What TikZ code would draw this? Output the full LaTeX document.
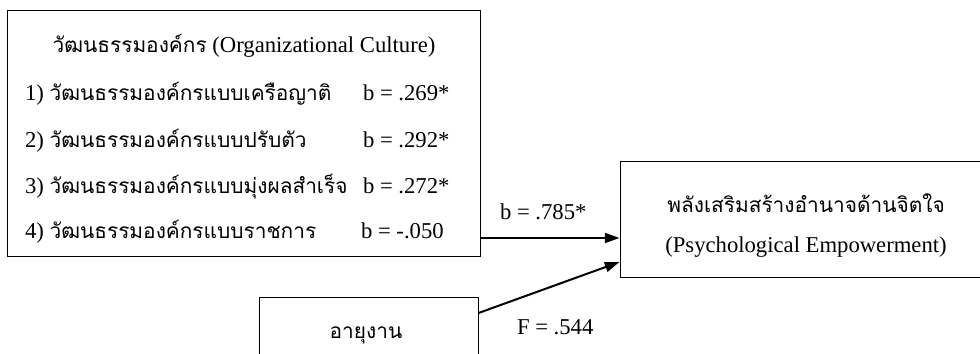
\documentclass[tikz,border=0pt]{standalone}
\usepackage{fontspec}
\setmainfont{Liberation Serif}
\newfontfamily\thaifont[Script=Thai,Scale=0.92]{Loma}
\usetikzlibrary{arrows.meta}
\newcommand{\thtext}[1]{{\thaifont #1}}
\tikzset{
  box/.style={draw=black,line width=0.75pt,fill=white,inner sep=0pt},
  txt/.style={inner sep=0pt,outer sep=0pt,anchor=base west,font=\fontsize{17}{20}\selectfont},
  link/.style={draw=black,line width=1.5pt,-{Triangle[length=11pt,width=7.5pt]}}
}
\begin{document}
\begin{tikzpicture}[x=.75pt,y=-.75pt]
\path[use as bounding box] (0,0) rectangle (980,353);
\clip (0,0) rectangle (980,353);
% boxes
\node[box,minimum width=354.75pt,minimum height=183.75pt] (culture) at (243.5,133.5) {};
\node[box,minimum width=285pt,minimum height=87pt] (empower) at (810,219) {};
\node[box,minimum width=164.25pt,minimum height=60pt] (tenure) at (368.5,337) {};
% culture box text
\node[txt,anchor=base] (ctitle) at (244,53) {\thtext{วัฒนธรรมองค์กร} (Organizational Culture)};
\node[txt] (c1) at (25,100) {1) \thtext{วัฒนธรรมองค์กรแบบเครือญาติ}};
\node[txt] (b1) at (363,100) {b = .269*};
\node[txt] (c2) at (25,147) {2) \thtext{วัฒนธรรมองค์กรแบบปรับตัว}};
\node[txt] (b2) at (363,147) {b = .292*};
\node[txt] (c3) at (25,193) {3) \thtext{วัฒนธรรมองค์กรแบบมุ่งผลสำเร็จ}};
\node[txt] (b3) at (363,193) {b = .272*};
\node[txt] (c4) at (25,238) {4) \thtext{วัฒนธรรมองค์กรแบบราชการ}};
\node[txt] (b4) at (361,238) {b = -.050};
% outcome box text
\node[txt,anchor=base] (etitle) at (806,212) {\thtext{พลังเสริมสร้างอำนาจด้านจิตใจ}};
\node[txt,anchor=base] (esub) at (806,252) {(Psychological Empowerment)};
% tenure box text
\node[txt,anchor=base] (ttitle) at (366,338) {\thtext{อายุงาน}};
% paths
\draw[link] (culture.east |- 0,238) -- (empower.west |- 0,238);
\draw[link] (tenure.east |- 0,313) -- (empower.west |- 0,262);
\node[txt] (bpath) at (500,219) {b = .785*};
\node[txt] (fpath) at (517,334) {F = .544};
\end{tikzpicture}
\end{document}
